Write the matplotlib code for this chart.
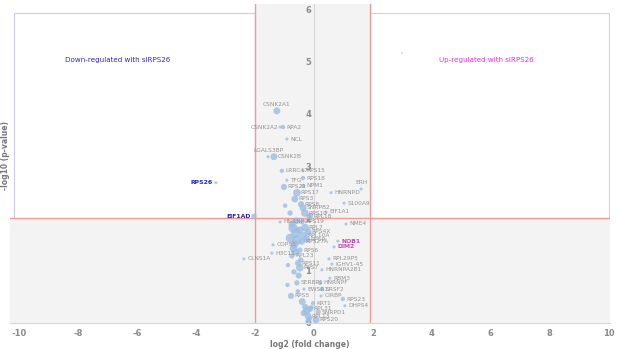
import matplotlib
matplotlib.use("Agg")
import matplotlib.pyplot as plt
from matplotlib.patches import Rectangle

plt.rcParams["axes.unicode_minus"] = False

# ---------------- data ----------------
genes = ["CSNK2A1", "CSNK2A2", "RPA2", "NCL", "LGALS3BP", "CSNK2B", "LRRC47", "RPS15",
         "TFG", "RPS18", "NPM1", "RPS21", "RPS17", "RPS3", "RPS8", "ERH", "HNRNPD",
         "S100A9", "EIF1A1", "SNRPB2", "RPS10", "RPL18", "EIF1AD", "RPS26", "NME4",
         "HNRNPU", "RPS19", "RPL7", "RPS4X", "RPL10A", "RPS9", "NOB1", "DIM2", "COPS5",
         "H3C15", "RPS27A", "RPS6", "RPL23", "CLNS1A", "RPL29P5", "IGHV1-45",
         "HNRNPA2B1", "RPS11", "RPS7", "RBM3", "SERBP1", "HNRNPF", "SRSF2", "EWSR1",
         "RPS5", "CIRBP", "RPS23", "DHPS4", "KRT1", "RPL31", "SNRPD1", "RPS20", "RPL13"]
log2_fc = [-1.26, -1.15, -1.05, -0.92, -1.56, -1.36, -1.09, -0.37,
           -0.92, -0.37, -0.37, -1.02, -0.58, -0.65, -0.44, 1.60, 0.58,
           1.02, 0.41, -0.37, -0.31, -0.14, -2.04, -3.33, 1.09,
           -1.15, -0.41, -0.30, -0.20, -0.35, -0.25, 0.81, 0.68, -1.39,
           -1.43, -0.41, -0.48, -0.75, -2.38, 0.51, 0.61,
           0.27, -0.54, -0.48, 0.54, -0.58, 0.20, 0.27, -0.34,
           -0.78, 0.24, 0.98, 1.05, -0.03, -0.14, 0.14, 0.07, -0.20]
neg_log10_p = [4.06, 3.75, 3.75, 3.52, 3.18, 3.18, 2.91, 2.91,
               2.73, 2.77, 2.62, 2.60, 2.49, 2.37, 2.27, 2.56, 2.49,
               2.29, 2.12, 2.20, 2.10, 2.04, 2.04, 2.68, 1.89,
               1.93, 1.93, 1.82, 1.74, 1.66, 1.60, 1.56, 1.45, 1.49,
               1.33, 1.55, 1.39, 1.28, 1.22, 1.22, 1.12,
               1.01, 1.14, 1.05, 0.85, 0.76, 0.76, 0.64, 0.64,
               0.51, 0.51, 0.45, 0.32, 0.37, 0.26, 0.20, 0.05, 0.12]
abundance = [5, 1, 2, 1, 1, 5, 2, 1,
             1, 2, 2, 4, 6, 5, 4, 1, 1,
             1, 1, 5, 6, 4, 3, 1, 1,
             1, 3, 6, 5, 6, 5, 1, 1, 1,
             1, 4, 3, 3, 1, 1, 1,
             1, 4, 6, 1, 3, 2, 2, 1,
             4, 1, 2, 1, 2, 4, 3, 5, 5]

# unlabeled proteins
extra_fc = [-0.71, -0.61, -0.81, -0.58, -0.66, -0.48, -0.75, -0.98, -0.81, -0.88,
            -0.68, -0.52, -0.45, -0.62, -0.30, -0.40, -0.25, -0.15, -0.35, -0.10,
            -0.55, -0.90, -0.20, 2.99, -0.70, -0.60]
extra_p = [1.81, 1.72, 1.62, 1.58, 1.50, 1.77, 1.88, 2.24, 2.10, 1.10,
           0.97, 0.90, 1.20, 1.35, 0.30, 0.40, 0.22, 0.08, 0.18, 0.28,
           0.60, 0.72, 0.02, 5.17, 1.42, 1.95]
extra_abund = [9, 10, 8, 9, 7, 6, 5, 2, 3, 2,
               3, 4, 3, 5, 4, 5, 6, 3, 4, 3,
               2, 2, 3, 0.3, 6, 5]

down_genes = ["EIF1AD", "RPS26"]
up_genes = ["NOB1", "DIM2"]
fc_low, fc_high = -2.0, 1.9
p_threshold = 2.0

# label placement overrides: (dx pts, dy pts, ha, va)
label_pos = {
    "CSNK2A1": (0, 3, "center", "bottom"),
    "LGALS3BP": (0, 3, "center", "bottom"),
    "ERH": (0, 3, "center", "bottom"),
    "CSNK2A2": (-1, 0, "right", "center"),
    "EIF1AD": (-2.5, 0, "right", "center"),
    "RPS26": (-2.5, 0, "right", "center"),
}

# ---------------- figure ----------------
fig = plt.figure(figsize=(6.17, 3.49), dpi=100)
ax = fig.add_axes([10 / 617, 26 / 349, 600 / 617, 319 / 349])
xlim = (-10.32, 10.05)
ylim = (-0.01, 6.11)
ax.set_xlim(*xlim)
ax.set_ylim(*ylim)
ax.set_facecolor("white")

gray_bg = "#f3f3f3"
ax.add_patch(Rectangle((xlim[0], ylim[0]), xlim[1] - xlim[0], p_threshold - ylim[0],
                       facecolor=gray_bg, edgecolor="none", zorder=0))
ax.add_patch(Rectangle((fc_low, p_threshold), fc_high - fc_low, ylim[1] - p_threshold,
                       facecolor=gray_bg, edgecolor="none", zorder=0))
ax.add_patch(Rectangle((-10.2, p_threshold), fc_low + 10.2, 5.94 - p_threshold,
                       facecolor="white", edgecolor="#c9c9f2", lw=0.8, zorder=0.5))
ax.add_patch(Rectangle((fc_high, p_threshold), 10.02 - fc_high, 5.94 - p_threshold,
                       facecolor="white", edgecolor="#f7bfe6", lw=0.8, zorder=0.5))

ax.axvline(fc_low, color="#f29a9a", lw=1.0, zorder=1)
ax.axvline(fc_high, color="#f29a9a", lw=1.0, zorder=1)
ax.axhline(p_threshold, color="#f29a9a", lw=1.0, zorder=1)

# spines / ticks
for s in ["top", "right"]:
    ax.spines[s].set_visible(False)
ax.spines["left"].set_position(("data", 0))
ax.spines["left"].set_color("#d6d6d6")
ax.spines["left"].set_linewidth(0.8)
ax.spines["bottom"].set_color("#d6d6d6")
ax.spines["bottom"].set_linewidth(0.8)
ax.set_xticks(range(-10, 11, 2))
ax.set_yticks(range(0, 7))
ax.tick_params(axis="both", length=0, colors="#888888", labelsize=6)
ax.tick_params(axis="x", pad=4)
ax.tick_params(axis="y", pad=2)
for lab in ax.get_xticklabels() + ax.get_yticklabels():
    lab.set_fontweight("bold")
    lab.set_color("#8a8a8a")

ax.set_xlabel("log2 (fold change)", fontsize=5.5, fontweight="bold", color="#777777", labelpad=2)
fig.text(6 / 617, 1 - 155 / 349, "-log10 (p-value)", rotation=90, fontsize=5.5,
         fontweight="bold", color="#777777", ha="center", va="center")

# points
pt_color = "#9dbde2"
ax.scatter(extra_fc, extra_p, s=[a * 5 for a in extra_abund], color=pt_color,
           alpha=0.8, edgecolors="none", zorder=3)
ax.scatter(log2_fc, neg_log10_p, s=[a * 5 for a in abundance], color=pt_color,
           alpha=0.8, edgecolors="none", zorder=3)

for g, x, y in zip(genes, log2_fc, neg_log10_p):
    dx, dy, ha, va = label_pos.get(g, (2.5, 0, "left", "center"))
    if g in down_genes:
        color, weight, fs = "#2323c8", "bold", 4.4
    elif g in up_genes:
        color, weight, fs = "#c04cb4", "bold", 4.4
    else:
        color, weight, fs = "#939393", "normal", 4.2
    ax.annotate(g, (x, y), xytext=(dx, dy), textcoords="offset points",
                ha=ha, va=va, fontsize=fs, color=color, fontweight=weight,
                zorder=4)

ax.text(-6.65, 5.04, "Down-regulated with siRPS26", color="#2b2bc4", fontsize=5.1,
        ha="center", va="center", zorder=5)
ax.text(5.84, 5.04, "Up-regulated with siRPS26", color="#e033e0", fontsize=5.1,
        ha="center", va="center", zorder=5)

fig.savefig("out.png", dpi=100)
